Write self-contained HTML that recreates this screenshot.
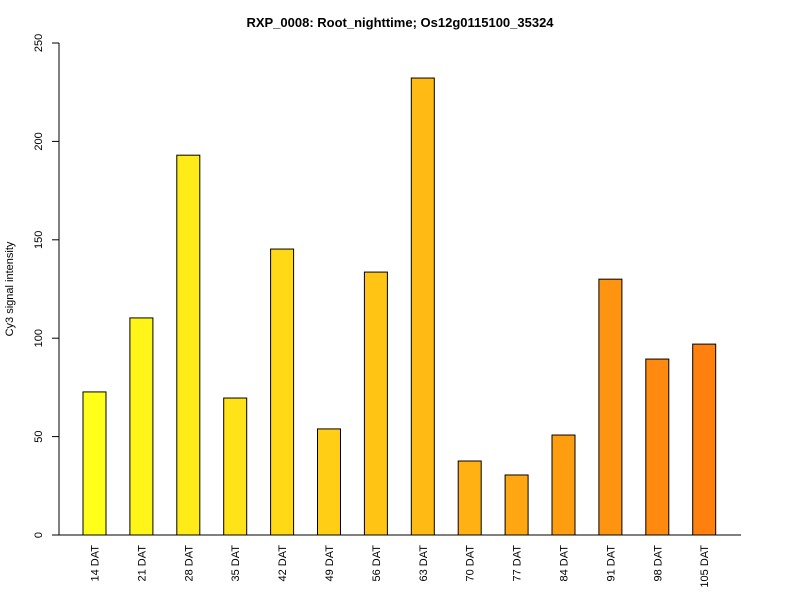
<!DOCTYPE html>
<html><head><meta charset="utf-8"><style>
body{margin:0;background:#fff;}
svg{display:block;font-family:"Liberation Sans",sans-serif;}
</style></head><body>
<svg id="chart" width="800" height="600" xmlns="http://www.w3.org/2000/svg">
<text x="400" y="27" text-anchor="middle" font-size="13" font-weight="bold">RXP_0008: Root_nighttime; Os12g0115100_35324</text>
<text transform="translate(13,289) rotate(-90)" text-anchor="middle" font-size="11">Cy3 signal intensity</text>
<g id="axes"></g>
<g id="bars"></g>
</svg>
<script>
const categories=["14 DAT","21 DAT","28 DAT","35 DAT","42 DAT","49 DAT","56 DAT","63 DAT","70 DAT","77 DAT","84 DAT","91 DAT","98 DAT","105 DAT"];
const values=[72.7,110.3,193,69.6,145.3,53.9,133.6,232.2,37.6,30.5,50.8,130,89.4,97];
const yTicks=[0,50,100,150,200,250];
const NS="http://www.w3.org/2000/svg";
const y0=535,yTop=43,yMax=250;
function yScale(v){return y0-(v/yMax)*(y0-yTop);}
function xCenter(i){return 94.5+i*46.9;}
const barW=23;
const axes=document.getElementById('axes'),bars=document.getElementById('bars');
function mk(tag,attrs,parent){const e=document.createElementNS(NS,tag);for(const k in attrs)e.setAttribute(k,attrs[k]);parent.appendChild(e);return e;}
const yl=mk('line',{x1:59,x2:59,y1:yScale(0),y2:yScale(yMax),stroke:'#000'},axes);


const xl=mk('line',{x1:59,x2:741,y1:y0,y2:y0,stroke:'#000'},axes);


yTicks.forEach(t=>{
 const y=yScale(t);
 const tk=mk('line',{x1:52,x2:59,y1:y,y2:y,stroke:'#000'},axes);
 
 
 const tx=mk('text',{transform:`translate(42,${y}) rotate(-90)`,'text-anchor':'middle','font-size':11},axes);
 
 
 tx.textContent=t;
});
const n=categories.length;
categories.forEach((c,i)=>{
 const f=i/(n-1);
 const g=Math.round(255-f*(255-128)), b=Math.round(26-f*(26-14));
 const x=xCenter(i)-barW/2, y=yScale(values[i]);
 const r=mk('rect',{x:x,y:y,width:barW,height:y0-y,fill:`rgb(255,${g},${b})`,stroke:'#000','stroke-width':1},bars);
 
 
 const t=mk('text',{transform:`translate(${xCenter(i)+4},545) rotate(-90)`,'text-anchor':'end','font-size':11},bars);
 
 
 t.textContent=c;
});
</script>
</body></html>
